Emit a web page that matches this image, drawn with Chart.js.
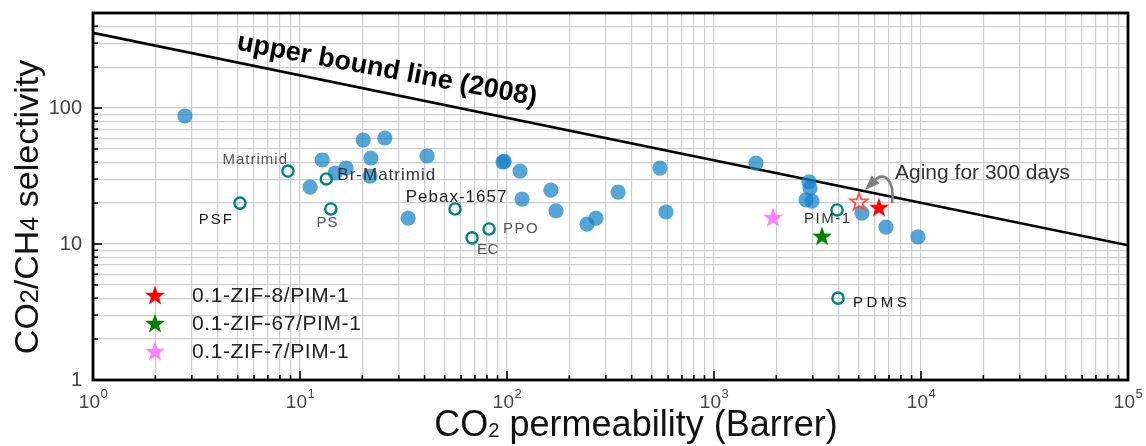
<!DOCTYPE html>
<html>
<head>
<meta charset="utf-8">
<script src="https://cdn.jsdelivr.net/npm/chart.js@4.4.1/dist/chart.umd.min.js"></script>
<style>
  html, body { margin: 0; padding: 0; background: #fff; }
  canvas { display: block; }
</style>
</head>
<body>
<canvas id="c" width="1146" height="446"></canvas>
<script>
const FONT = '"Liberation Sans", Arial, Helvetica, sans-serif';

// Reported polymer membranes (filled blue circles): CO2 permeability (Barrer) and CO2/CH4 selectivity
const polymerPerm = [2.78, 12.8, 11.2, 16.7, 14.8, 20.2, 25.7, 22.0, 21.8, 41.1, 33.3, 95.7, 97.0,
                     115.6, 118.2, 163, 172.5, 344, 269, 243.5, 548, 586, 1595, 2877, 2910, 2783,
                     2975, 5188, 6775, 9672];
const polymerSel  = [87.4, 41.5, 26.2, 36.2, 33.3, 58.2, 60.2, 42.9, 31.6, 44.4, 15.5, 40.1, 40.6,
                     34.4, 21.4, 24.9, 17.5, 24.1, 15.5, 14.0, 36.2, 17.2, 39.4, 28.6, 25.8, 21.1,
                     20.7, 16.9, 13.3, 11.3];

// Benchmark polymers (open circles, labelled)
const benchNames = ['PSF', 'Matrimid', 'Br-Matrimid', 'PS', 'Pebax-1657', 'EC', 'PPO', 'PIM-1', 'PDMS'];
const benchPerm  = [5.13, 8.75, 13.4, 14.1, 56.1, 67.8, 81.9, 3929, 3972];
const benchSel   = [20.0, 34.4, 30.1, 18.1, 18.1, 11.1, 12.9, 17.8, 4.0];

// ZIF / PIM-1 mixed-matrix membranes (stars)
const mmmNames = ['0.1-ZIF-8/PIM-1', '0.1-ZIF-67/PIM-1', '0.1-ZIF-7/PIM-1'];
const mmmPerm  = [6268, 3325, 1928];
const mmmSel   = [18.7, 11.5, 15.8];

// 0.1-ZIF-8/PIM-1 after aging for 300 days (open star)
const agedPerm = [5018];
const agedSel  = [20.7];

// Robeson 2008 upper bound, end points on the axis range
const boundPerm = [1, 100000];
const boundSel  = [357, 9.8];

// Axis ranges and labelled decades
const xRange = [1, 100000];
const yRange = [1, 500];
const xTickExponents = [0, 1, 2, 3, 4, 5];
const yTickLabels = ['1', '10', '100'];

const toPts = (xs, ys) => xs.map((x, i) => ({ x, y: ys[i] }));

// log-scale grid positions: 1..9 x 10^n
function logGrid(min, max) {
  const out = [];
  for (let e = Math.floor(Math.log10(min)); e <= Math.ceil(Math.log10(max)); e++) {
    for (let m = 1; m <= 9; m++) {
      const v = m * Math.pow(10, e);
      if (v >= min - 1e-9 && v <= max + 1e-9) out.push({ value: v });
    }
  }
  return out;
}
const isDecade = v => Math.abs(Math.log10(v) - Math.round(Math.log10(v))) < 1e-9;

// five-pointed star marker rendered to a small canvas
function starImage(fill, stroke, size, lw) {
  const c = document.createElement('canvas');
  c.width = c.height = size;
  const g = c.getContext('2d');
  const cx = size / 2, cy = size / 2 + size * 0.05;
  const R = size / 2 - (lw ? lw : 0.5), r = R * 0.4;
  g.beginPath();
  for (let i = 0; i < 10; i++) {
    const a = -Math.PI / 2 + i * Math.PI / 5;
    const rad = i % 2 ? r : R;
    g.lineTo(cx + rad * Math.cos(a), cy + rad * Math.sin(a));
  }
  g.closePath();
  if (fill) { g.fillStyle = fill; g.fill(); }
  if (stroke) { g.strokeStyle = stroke; g.lineWidth = lw; g.lineJoin = 'miter'; g.stroke(); }
  return c;
}

const starColors = ['#ff0000', '#008000', '#ff80ff'];
const starImgs = starColors.map(c => starImage(c, null, 22));
const agedStar = starImage(null, '#ff4a4a', 22, 1.8);

// label placement relative to each benchmark point
const benchLabelStyle = {
  'PSF':         { dx: -8,  dy: 17,  align: 'right',  color: '#111', size: 15, ls: 2 },
  'Matrimid':    { dx: -1,  dy: -11, align: 'right',  color: '#555', size: 15, ls: 1 },
  'Br-Matrimid': { dx: 11,  dy: -4,  align: 'left',   color: '#333', size: 17, ls: 1 },
  'PS':          { dx: -4,  dy: 14,  align: 'center', color: '#555', size: 15, ls: 1 },
  'Pebax-1657':  { dx: 1,   dy: -12, align: 'center', color: '#222', size: 17, ls: 1 },
  'EC':          { dx: 5,   dy: 12,  align: 'left',   color: '#555', size: 15, ls: 0.5 },
  'PPO':         { dx: 14,  dy: 0,   align: 'left',   color: '#555', size: 15, ls: 1.5 },
  'PIM-1':       { dx: -10, dy: 9,   align: 'center', color: '#333', size: 15, ls: 1.5 },
  'PDMS':        { dx: 15,  dy: 5,   align: 'left',   color: '#111', size: 15, ls: 3.5 }
};

function drawSpaced(ctx, text, x, y, align, ls) {
  ctx.letterSpacing = ls + 'px';
  const w = ctx.measureText(text).width - ls;
  let sx = x;
  if (align === 'center') sx = x - w / 2;
  else if (align === 'right') sx = x - w;
  ctx.textAlign = 'left';
  ctx.fillText(text, sx, y);
  ctx.letterSpacing = '0px';
}

// text with subscripts: parts = [[text, isSub], ...]
function drawRich(ctx, parts, cx, baseY, size, subScale, subShift) {
  const widths = parts.map(([t, s]) => {
    ctx.font = `${s ? size * subScale : size}px ${FONT}`;
    return ctx.measureText(t).width;
  });
  let x = cx - widths.reduce((a, b) => a + b, 0) / 2;
  ctx.textAlign = 'left';
  ctx.textBaseline = 'alphabetic';
  parts.forEach(([t, s], i) => {
    ctx.font = `${s ? size * subScale : size}px ${FONT}`;
    ctx.fillText(t, x, baseY + (s ? subShift : 0));
    x += widths[i];
  });
}

const framePlugin = {
  id: 'frame',
  afterDatasetsDraw(chart) {
    const { ctx, chartArea: a, scales: { x, y } } = chart;
    ctx.save();

    // inward tick marks on bottom and left axes
    ctx.strokeStyle = '#000';
    ctx.lineWidth = 1.6;
    x.ticks.forEach(t => {
      const px = x.getPixelForValue(t.value);
      const len = isDecade(t.value) ? 9 : 5;
      ctx.beginPath(); ctx.moveTo(px, a.bottom); ctx.lineTo(px, a.bottom - len); ctx.stroke();
    });
    y.ticks.forEach(t => {
      const py = y.getPixelForValue(t.value);
      const len = isDecade(t.value) ? 9 : 5;
      ctx.beginPath(); ctx.moveTo(a.left, py); ctx.lineTo(a.left + len, py); ctx.stroke();
    });

    // plot frame
    ctx.lineWidth = 2.8;
    ctx.strokeRect(a.left, a.top, a.right - a.left, a.bottom - a.top);

    // x tick labels 10^n
    ctx.fillStyle = '#444';
    ctx.textBaseline = 'alphabetic';
    xTickExponents.forEach(e => {
      const px = x.getPixelForValue(Math.pow(10, e));
      ctx.font = `19px ${FONT}`;
      const wb = ctx.measureText('10').width;
      ctx.font = `13px ${FONT}`;
      const ws = ctx.measureText(String(e)).width;
      const sx = px - (wb + ws) / 2;
      ctx.font = `19px ${FONT}`;
      ctx.textAlign = 'left';
      ctx.fillText('10', sx, a.bottom + 28);
      ctx.font = `13px ${FONT}`;
      ctx.fillText(String(e), sx + wb + 0.5, a.bottom + 18);
    });

    // y tick labels
    ctx.font = `20px ${FONT}`;
    ctx.textAlign = 'right';
    ctx.textBaseline = 'middle';
    yTickLabels.forEach(lbl => {
      const py = y.getPixelForValue(Number(lbl));
      ctx.fillText(lbl, a.left - 11, py);
    });

    // axis titles
    ctx.fillStyle = '#111';
    drawRich(ctx, [['CO', false], ['2', true], [' permeability (Barrer)', false]],
             636, 436, 36, 0.56, 1);
    ctx.save();
    ctx.translate(38, 207);
    ctx.rotate(-Math.PI / 2);
    drawRich(ctx, [['CO', false], ['2', true], ['/CH', false], ['4', true], [' selectivity', false]],
             0, 0, 34, 0.74, 0);
    ctx.restore();

    ctx.restore();
  }
};

const notesPlugin = {
  id: 'notes',
  afterDatasetsDraw(chart) {
    const { ctx, chartArea: a, scales: { x, y } } = chart;
    ctx.save();

    // benchmark polymer names
    ctx.textBaseline = 'middle';
    benchNames.forEach((name, i) => {
      const st = benchLabelStyle[name];
      const px = x.getPixelForValue(benchPerm[i]);
      const py = y.getPixelForValue(benchSel[i]);
      ctx.font = `${st.size}px ${FONT}`;
      ctx.fillStyle = st.color;
      drawSpaced(ctx, name, px + st.dx, py + st.dy, st.align, st.ls);
    });

    // upper bound caption, following the line direction
    const x0 = x.getPixelForValue(boundPerm[0]), y0 = y.getPixelForValue(boundSel[0]);
    const x1 = x.getPixelForValue(boundPerm[1]), y1 = y.getPixelForValue(boundSel[1]);
    const ang = Math.atan2(y1 - y0, x1 - x0);
    const t = (387 - x0) / (x1 - x0);
    const lx = 387, ly = y0 + t * (y1 - y0) - 23;
    ctx.save();
    ctx.translate(lx, ly);
    ctx.rotate(ang - 0.018);
    ctx.font = `bold 27px ${FONT}`;
    ctx.fillStyle = '#000';
    ctx.textAlign = 'center';
    ctx.textBaseline = 'middle';
    ctx.fillText('upper bound line (2008)', 0, 0);
    ctx.restore();

    // aging arrow from the fresh ZIF-8 membrane to the aged one
    const fx = x.getPixelForValue(mmmPerm[0]), fy = y.getPixelForValue(mmmSel[0]);
    ctx.strokeStyle = '#808080';
    ctx.fillStyle = '#808080';
    ctx.lineWidth = 2.6;
    ctx.beginPath();
    ctx.moveTo(fx + 13, fy - 4);
    ctx.bezierCurveTo(fx + 16, fy - 27, fx + 5, fy - 36, fx - 4, fy - 27);
    ctx.stroke();
    ctx.beginPath();
    ctx.moveTo(fx - 14, fy - 17);
    ctx.lineTo(fx + 0.5, fy - 23.5);
    ctx.lineTo(fx - 7.5, fy - 31.5);
    ctx.closePath();
    ctx.fill();

    ctx.font = `21px ${FONT}`;
    ctx.fillStyle = '#333';
    ctx.textAlign = 'left';
    ctx.textBaseline = 'middle';
    ctx.fillText('Aging for 300 days', fx + 16, fy - 34);

    // legend for the mixed-matrix membranes
    ctx.font = `21px ${FONT}`;
    ctx.fillStyle = '#222';
    mmmNames.forEach((name, i) => {
      const cy = a.bottom - 85 + i * 28;
      const img = starImgs[i];
      ctx.drawImage(img, 155 - img.width / 2, cy - img.height / 2);
      drawSpaced(ctx, name, 192, cy + 1, 'left', 0.6);
    });

    ctx.restore();
  }
};

new Chart(document.getElementById('c'), {
  type: 'scatter',
  data: {
    datasets: [
      {
        label: 'Upper bound (2008)',
        type: 'line',
        data: toPts(boundPerm, boundSel),
        borderColor: '#000',
        borderWidth: 2.6,
        pointRadius: 0,
        fill: false,
        tension: 0,
        order: 6
      },
      {
        label: 'Polymer membranes',
        data: toPts(polymerPerm, polymerSel),
        backgroundColor: 'rgba(20,130,200,0.72)',
        borderWidth: 0,
        pointRadius: 7.6,
        order: 5
      },
      {
        label: 'Benchmark polymers',
        data: toPts(benchPerm, benchSel),
        backgroundColor: 'rgba(255,255,255,0)',
        borderColor: '#00827c',
        borderWidth: 2.4,
        pointRadius: 5.6,
        order: 4
      },
      {
        label: '0.1-ZIF-8/PIM-1 (300 days)',
        data: toPts(agedPerm, agedSel),
        pointStyle: agedStar,
        pointRadius: 10,
        order: 3
      },
      ...mmmNames.map((name, i) => ({
        label: name,
        data: [{ x: mmmPerm[i], y: mmmSel[i] }],
        pointStyle: starImgs[i],
        pointRadius: 10,
        order: 2
      }))
    ]
  },
  options: {
    responsive: false,
    devicePixelRatio: 1,
    animation: false,
    events: [],
    layout: { padding: { left: 93, right: 18, top: 13, bottom: 66 } },
    plugins: { legend: { display: false }, tooltip: { enabled: false } },
    scales: {
      x: {
        type: 'logarithmic',
        min: xRange[0], max: xRange[1],
        afterBuildTicks: s => { s.ticks = logGrid(xRange[0], xRange[1]); },
        ticks: { display: false },
        grid: { color: '#cdcdcd', lineWidth: 1.2, drawTicks: false },
        border: { display: false }
      },
      y: {
        type: 'logarithmic',
        min: yRange[0], max: yRange[1],
        afterBuildTicks: s => { s.ticks = logGrid(yRange[0], yRange[1]); },
        ticks: { display: false },
        grid: { color: '#cdcdcd', lineWidth: 1.2, drawTicks: false },
        border: { display: false }
      }
    }
  },
  plugins: [framePlugin, notesPlugin]
});
</script>
</body>
</html>
